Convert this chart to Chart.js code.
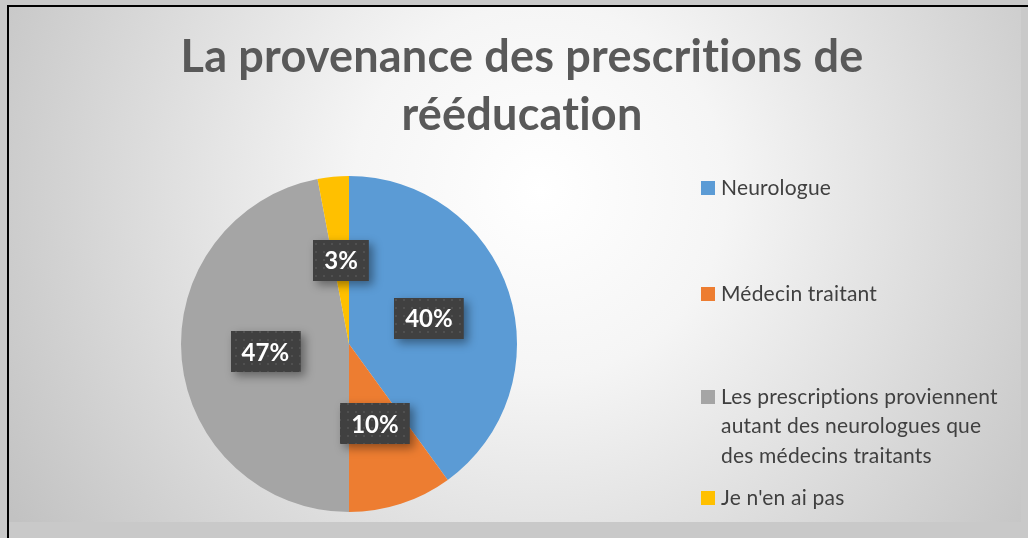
<!DOCTYPE html>
<html>
<head>
<meta charset="utf-8">
<script src="https://cdn.jsdelivr.net/npm/chart.js@4.4.1/dist/chart.umd.min.js"></script>
<style>
  html, body { margin: 0; padding: 0; background: #c9c9c9; }
  #wrap { width: 1028px; height: 538px; position: relative; }
</style>
</head>
<body>
<div id="wrap"><canvas id="chart-canvas" width="1028" height="538"></canvas></div>
<script>
// chart data
const titleLines = ['La provenance des prescritions de', 'rééducation'];
const categories = ['Neurologue', 'Médecin traitant', 'Les prescriptions proviennent autant des neurologues que des médecins traitants', "Je n'en ai pas"];
const legendLines = [
    ['Neurologue'],
    ['Médecin traitant'],
    ['Les prescriptions proviennent', 'autant des neurologues que', 'des médecins traitants'],
    ["Je n'en ai pas"]
];
const values = [40, 10, 47, 3];
const percentLabels = ['40%', '10%', '47%', '3%'];
const sliceColors = ['#5B9BD5', '#ED7D31', '#A5A5A5', '#FFC000'];

const FONT = 'Lato, "Open Sans", sans-serif';

// dotted dark fill for the data label boxes
function makeDots() {
    const c = document.createElement('canvas');
    c.width = 8; c.height = 8;
    const g = c.getContext('2d');
    g.fillStyle = '#404040';
    g.fillRect(0, 0, 8, 8);
    g.fillStyle = '#505050';
    g.fillRect(3, 3, 2, 2);
    return c;
}
const dotTile = makeDots();

// no "ti" / "fi" ligatures, Calibri does not draw them
function noLigatures(ctx) {
    if ('letterSpacing' in ctx) ctx.letterSpacing = '0.2px';
    if ('textRendering' in ctx) ctx.textRendering = 'optimizeSpeed';
}

const backdrop = {
    id: 'backdrop',
    beforeDraw(chart) {
        const ctx = chart.ctx;
        ctx.save();
        ctx.fillStyle = '#c9c9c9';
        ctx.fillRect(0, 0, chart.width, chart.height);
        const grad = ctx.createRadialGradient(540, 190, 0, 540, 190, 620);
        grad.addColorStop(0, '#ffffff');
        grad.addColorStop(0.3, '#f5f5f5');
        grad.addColorStop(1, '#c2c2c2');
        ctx.fillStyle = grad;
        ctx.fillRect(8, 6, 1013, 516);
        // dark frame edges (left and top)
        ctx.fillStyle = '#000';
        ctx.fillRect(7, 6, 2, chart.height - 6);
        ctx.fillRect(7, 5, chart.width - 7, 2);
        ctx.restore();
    }
};

const titleAndLegend = {
    id: 'titleAndLegend',
    afterDraw(chart) {
        const ctx = chart.ctx;
        ctx.save();
        noLigatures(ctx);
        // title
        ctx.fillStyle = '#595959';
        ctx.textAlign = 'center';
        ctx.textBaseline = 'alphabetic';
        ctx.font = 'bold 45px ' + FONT;
        ctx.fillText(titleLines[0], 522, 72);
        ctx.fillText(titleLines[1], 522, 130);

        // legend
        const rowTops = [188, 294, 397, 498];
        ctx.textAlign = 'left';
        ctx.textBaseline = 'middle';
        ctx.font = '21px ' + FONT;
        legendLines.forEach((lines, i) => {
            ctx.fillStyle = sliceColors[i];
            ctx.fillRect(701, rowTops[i] - 7, 14, 14);
            ctx.fillStyle = '#404040';
            lines.forEach((ln, j) => {
                ctx.fillText(ln, 721, rowTops[i] + j * 29.5);
            });
        });
        ctx.restore();
    }
};

const boxLabels = {
    id: 'boxLabels',
    afterDatasetsDraw(chart) {
        const ctx = chart.ctx;
        const meta = chart.getDatasetMeta(0);
        const pattern = ctx.createPattern(dotTile, 'repeat');
        ctx.save();
        ctx.font = 'bold 24px ' + FONT;
        ctx.textAlign = 'center';
        ctx.textBaseline = 'middle';
        meta.data.forEach((arc, i) => {
            const p = arc.getCenterPoint();
            const txt = percentLabels[i];
            const w = ctx.measureText(txt).width + 22;
            const h = 41;
            const x = Math.round(p.x - w / 2), y = Math.round(p.y - h / 2);
            ctx.save();
            ctx.shadowColor = 'rgba(0,0,0,0.4)';
            ctx.shadowBlur = 9;
            ctx.shadowOffsetX = 4;
            ctx.shadowOffsetY = 4;
            ctx.fillStyle = '#404040';
            ctx.fillRect(x, y, w, h);
            ctx.restore();
            ctx.fillStyle = pattern;
            ctx.fillRect(x, y, w, h);
            ctx.fillStyle = '#ffffff';
            ctx.fillText(txt, p.x, p.y + 1);
        });
        ctx.restore();
    }
};

new Chart(document.getElementById('chart-canvas').getContext('2d'), {
    type: 'pie',
    data: {
        labels: categories,
        datasets: [{
            data: values,
            backgroundColor: sliceColors,
            borderWidth: 0
        }]
    },
    options: {
        responsive: false,
        animation: false,
        layout: {
            padding: { left: 181, right: 511, top: 176, bottom: 26 }
        },
        plugins: {
            legend: { display: false },
            title: { display: false },
            tooltip: { enabled: false }
        }
    },
    plugins: [backdrop, boxLabels, titleAndLegend]
});
</script>
</body>
</html>
